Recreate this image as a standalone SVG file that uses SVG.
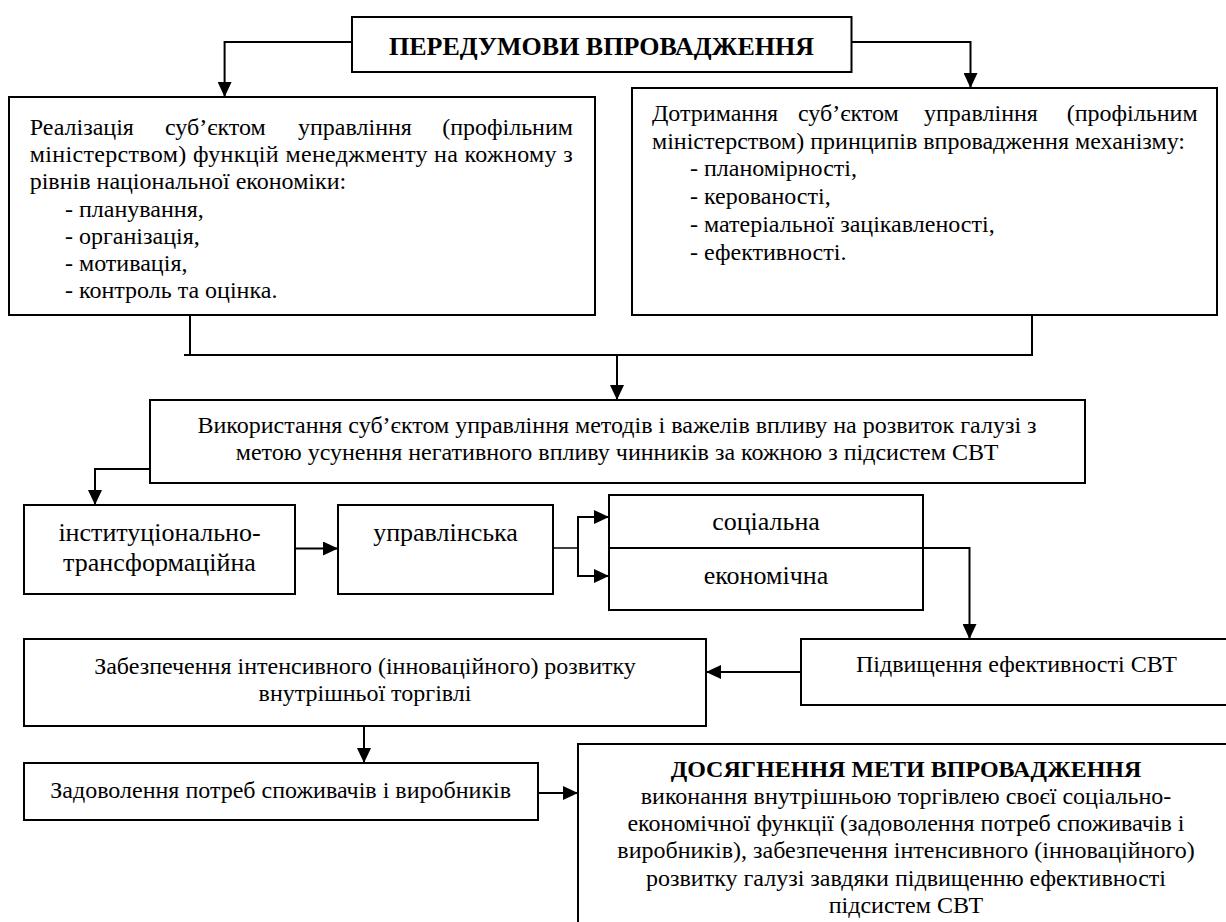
<svg xmlns="http://www.w3.org/2000/svg" width="1226" height="922" viewBox="0 0 1226 922">
<style>
.t{font-size:24px}
.b{font-size:26px;font-weight:bold}
.tb{font-size:24px;font-weight:bold}
.m{font-size:26px}
.c{text-anchor:middle}
.e{text-anchor:end}
.box{fill:#fff;stroke:#000;stroke-width:2}
.ln{fill:none;stroke:#000;stroke-width:2}
.thin{fill:none;stroke:#000;stroke-width:1.5}
</style>
<defs>
<marker id="ah" viewBox="0 0 15 14" refX="15" refY="7" markerWidth="15" markerHeight="14" markerUnits="userSpaceOnUse" orient="auto">
<path d="M0,0 L15,7 L0,14 Z" fill="#000"/>
</marker>
</defs>
<rect width="1226" height="922" fill="#fff"/>

<g id="connectors">
<polyline class="ln" points="352,42 224.6,42 224.6,97" marker-end="url(#ah)"/>
<polyline class="ln" points="851.5,42 970.5,42 970.5,88" marker-end="url(#ah)"/>
<line class="ln" x1="190" y1="315" x2="190" y2="355"/>
<line class="ln" x1="1032" y1="315" x2="1032" y2="355"/>
<line class="ln" x1="184" y1="355" x2="1033" y2="355"/>
<line class="ln" x1="617" y1="355" x2="617" y2="400" marker-end="url(#ah)"/>
<polyline class="ln" points="150,469 95,469 95,505" marker-end="url(#ah)"/>
<line class="ln" x1="295" y1="548.5" x2="338" y2="548.5" marker-end="url(#ah)"/>
<line class="thin" x1="553" y1="548" x2="578" y2="548"/>
<line class="ln" x1="578" y1="517" x2="578" y2="576"/>
<line class="ln" x1="577" y1="517" x2="609" y2="517" marker-end="url(#ah)"/>
<line class="ln" x1="577" y1="576" x2="609" y2="576" marker-end="url(#ah)"/>
<polyline class="ln" points="923,548 969.5,548 969.5,639" marker-end="url(#ah)"/>
<line class="ln" x1="801" y1="672" x2="706" y2="672" marker-end="url(#ah)"/>
<line class="ln" x1="364" y1="726" x2="364" y2="763" marker-end="url(#ah)"/>
<line class="ln" x1="538" y1="793" x2="578" y2="793" marker-end="url(#ah)"/>
</g>

<g font-family="'Liberation Serif', 'DejaVu Serif', serif" fill="#000">
<g id="n-top">
<rect class="box" x="352" y="17" width="499.5" height="55"/>
<text class="b c" x="601.5" y="55">ПЕРЕДУМОВИ ВПРОВАДЖЕННЯ</text>
</g>

<g id="n-left">
<rect class="box" x="9" y="97" width="586" height="218"/>
<text class="t" x="29.7" y="135">Реалізація</text>
<text class="t" x="165" y="135">суб’єктом</text>
<text class="t" x="298" y="135">управління</text>
<text class="t e" x="573" y="135">(профільним</text>
<text class="t" x="29.7" y="162.2" textLength="543" lengthAdjust="spacing">міністерством) функцій менеджменту на кожному з</text>
<text class="t" x="29.7" y="189.4">рівнів національної економіки:</text>
<text class="t" x="65" y="216.6">- планування,</text>
<text class="t" x="65" y="243.8">- організація,</text>
<text class="t" x="65" y="271">- мотивація,</text>
<text class="t" x="65" y="298.2">- контроль та оцінка.</text>
</g>

<g id="n-right">
<rect class="box" x="632" y="88" width="585" height="227"/>
<text class="t" x="652" y="121">Дотримання</text>
<text class="t" x="798" y="121">суб’єктом</text>
<text class="t" x="924" y="121">управління</text>
<text class="t e" x="1197.6" y="121">(профільним</text>
<text class="t" x="652" y="148.7">міністерством) принципів впровадження механізму:</text>
<text class="t" x="690" y="176.4">- планомірності,</text>
<text class="t" x="690" y="204.1">- керованості,</text>
<text class="t" x="690" y="231.8">- матеріальної зацікавленості,</text>
<text class="t" x="690" y="259.5">- ефективності.</text>
</g>

<g id="n-middle">
<rect class="box" x="150" y="400" width="935" height="83"/>
<text class="t c" x="617" y="433">Використання суб’єктом управління методів і важелів впливу на розвиток галузі з</text>
<text class="t c" x="617" y="460">метою усунення негативного впливу чинників за кожною з підсистем СВТ</text>
</g>

<g id="n-inst">
<rect class="box" x="24" y="505" width="271" height="89"/>
<text class="m c" x="159.5" y="541">інституціонально-</text>
<text class="m c" x="159.5" y="571">трансформаційна</text>
</g>

<g id="n-upr">
<rect class="box" x="338" y="505" width="215" height="89"/>
<text class="m c" x="445.5" y="541">управлінська</text>
</g>

<g id="n-social">
<rect class="box" x="609" y="495" width="314" height="53"/>
<text class="m c" x="766" y="530">соціальна</text>
</g>

<g id="n-econ">
<rect class="box" x="609" y="548" width="314" height="62"/>
<text class="m c" x="766" y="584">економічна</text>
</g>

<g id="n-pidv">
<rect class="box" x="801" y="639" width="440" height="66"/>
<text class="t c" x="1016.5" y="672">Підвищення ефективності СВТ</text>
</g>

<g id="n-zabezp">
<rect class="box" x="24" y="639" width="682" height="87"/>
<text class="t c" x="365" y="674">Забезпечення інтенсивного (інноваційного) розвитку</text>
<text class="t c" x="365" y="701">внутрішньої торгівлі</text>
</g>

<g id="n-zadov">
<rect class="box" x="24" y="763" width="514" height="57"/>
<text class="t c" x="280.7" y="798">Задоволення потреб споживачів і виробників</text>
</g>

<g id="n-final">
<rect class="box" x="578" y="744" width="665" height="200"/>
<text class="tb c" x="906" y="777">ДОСЯГНЕННЯ МЕТИ ВПРОВАДЖЕННЯ</text>
<text class="t c" x="906" y="804">виконання внутрішньою торгівлею своєї соціально-</text>
<text class="t c" x="906" y="831">економічної функції (задоволення потреб споживачів і</text>
<text class="t c" x="906" y="858">виробників), забезпечення інтенсивного (інноваційного)</text>
<text class="t c" x="906" y="885.5">розвитку галузі завдяки підвищенню ефективності</text>
<text class="t c" x="906" y="912.5">підсистем СВТ</text>
</g>
</g>
</svg>
